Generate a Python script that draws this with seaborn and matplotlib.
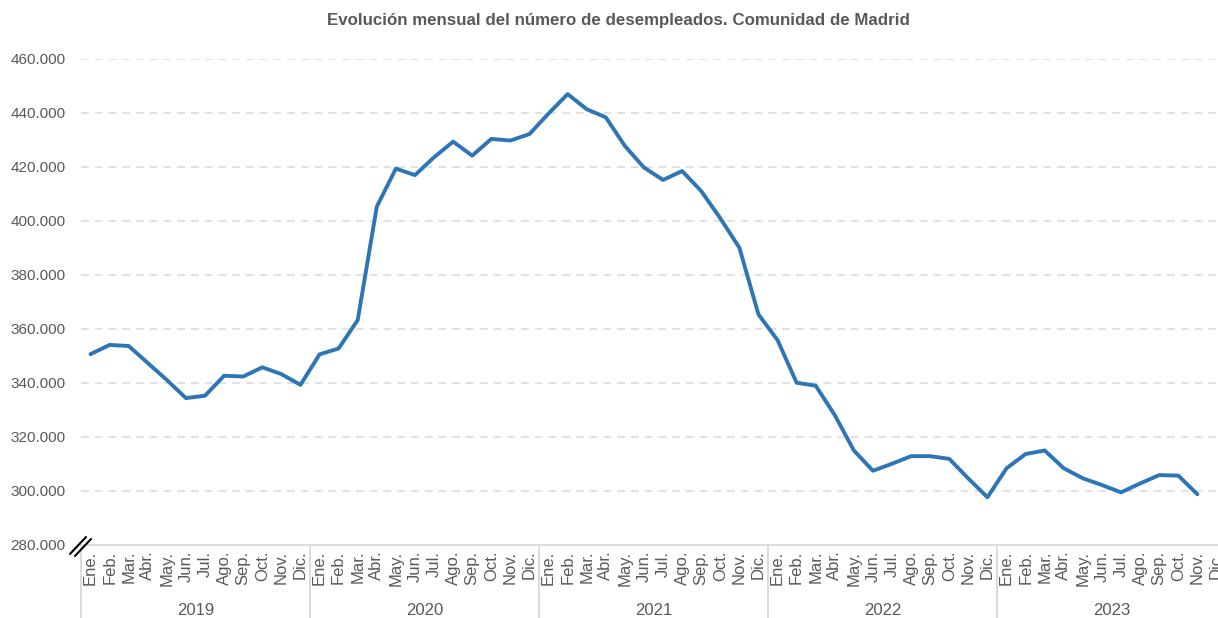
import matplotlib
matplotlib.use("Agg")
import matplotlib.pyplot as plt
import matplotlib.transforms as mtransforms
from matplotlib.lines import Line2D
import seaborn as sns

# Data (paro registrado, Comunidad de Madrid)
years = ["2019", "2020", "2021", "2022", "2023"]
months = ["Ene.", "Feb.", "Mar.", "Abr.", "May.", "Jun.",
          "Jul.", "Ago.", "Sep.", "Oct.", "Nov.", "Dic."]
parados_2019 = [350700, 354100, 353700, 347400, 341100, 334400,
                335300, 342700, 342400, 345800, 343300, 339300]
parados_2020 = [350600, 352800, 363300, 405300, 419400, 417000,
                423600, 429400, 424200, 430400, 429800, 432200]
parados_2021 = [439800, 447000, 441400, 438400, 427800, 419800,
                415200, 418500, 411100, 401000, 390100, 365400]
parados_2022 = [355900, 340100, 339000, 328100, 315000, 307500,
                310100, 312900, 312900, 311900, 304600, 297700]
parados_2023 = [308400, 313700, 315000, 308400, 304700, 302200,
                299500, 302800, 305900, 305700, 298800]

values = parados_2019 + parados_2020 + parados_2021 + parados_2022 + parados_2023
idx = list(range(len(values)))
n_cats = len(years) * len(months)

W, H = 1218, 618
grey = "#595959"
grid_c = "#d9d9d9"

sns.set_style("white")
plt.rcParams["font.family"] = ["Liberation Sans", "DejaVu Sans"]

fig = plt.figure(figsize=(W / 100, H / 100), dpi=100)
ax = fig.add_axes([81 / W, 73 / H, 1145 / W, 486 / H])

sns.lineplot(x=idx, y=values, ax=ax, color="#2e75b6", linewidth=2.8)

ax.set_xlim(-0.5, n_cats - 0.5)
ax.set_ylim(280000, 460000)
ax.set_yticks(range(280000, 460001, 20000))
ax.set_yticklabels([f"{v:,}".replace(",", ".") for v in range(280000, 460001, 20000)],
                   fontsize=11, color=grey)
ax.tick_params(axis="y", length=0, pad=11)
ax.set_xticks([])
ax.set_xlabel("")
ax.set_ylabel("")

for y in range(300000, 460001, 20000):
    ax.axhline(y, color=grid_c, linewidth=1.1, linestyle=(0, (5, 4)), zorder=0)

for s in ["top", "right", "left"]:
    ax.spines[s].set_visible(False)
ax.spines["bottom"].set_color(grid_c)
ax.spines["bottom"].set_linewidth(1.3)

trans = mtransforms.blended_transform_factory(ax.transData, ax.transAxes)

# month labels
for i in range(n_cats):
    ax.text(i, -0.012, months[i % 12], transform=trans, rotation=90,
            ha="center", va="top", fontsize=12, color=grey, clip_on=False,
            family=["Liberation Sans Narrow", "Liberation Sans", "DejaVu Sans"])

# year separators and labels
for k, yr in enumerate(years):
    x0 = k * 12 - 0.5
    ax.plot([x0, x0], [0, -0.16], transform=trans, color=grid_c,
            linewidth=1.3, clip_on=False)
    ax.text(k * 12 + 5.5, -0.119, yr, transform=trans, ha="center", va="top",
            fontsize=12, color=grey, clip_on=False)

# axis break mark
for dx in (0, 5):
    fig.add_artist(Line2D([(70 + dx) / W, (86 + dx) / W],
                          [1 - (554 + dx * 0.4) / H, 1 - (537 + dx * 0.4) / H],
                          color="black", linewidth=1.5))

fig.text(618 / W, 1 - 21 / H,
         "Evolución mensual del número de desempleados. Comunidad de Madrid",
         ha="center", va="center", fontsize=12.2, fontweight="bold", color=grey)

fig.savefig("out.png", dpi=100)
